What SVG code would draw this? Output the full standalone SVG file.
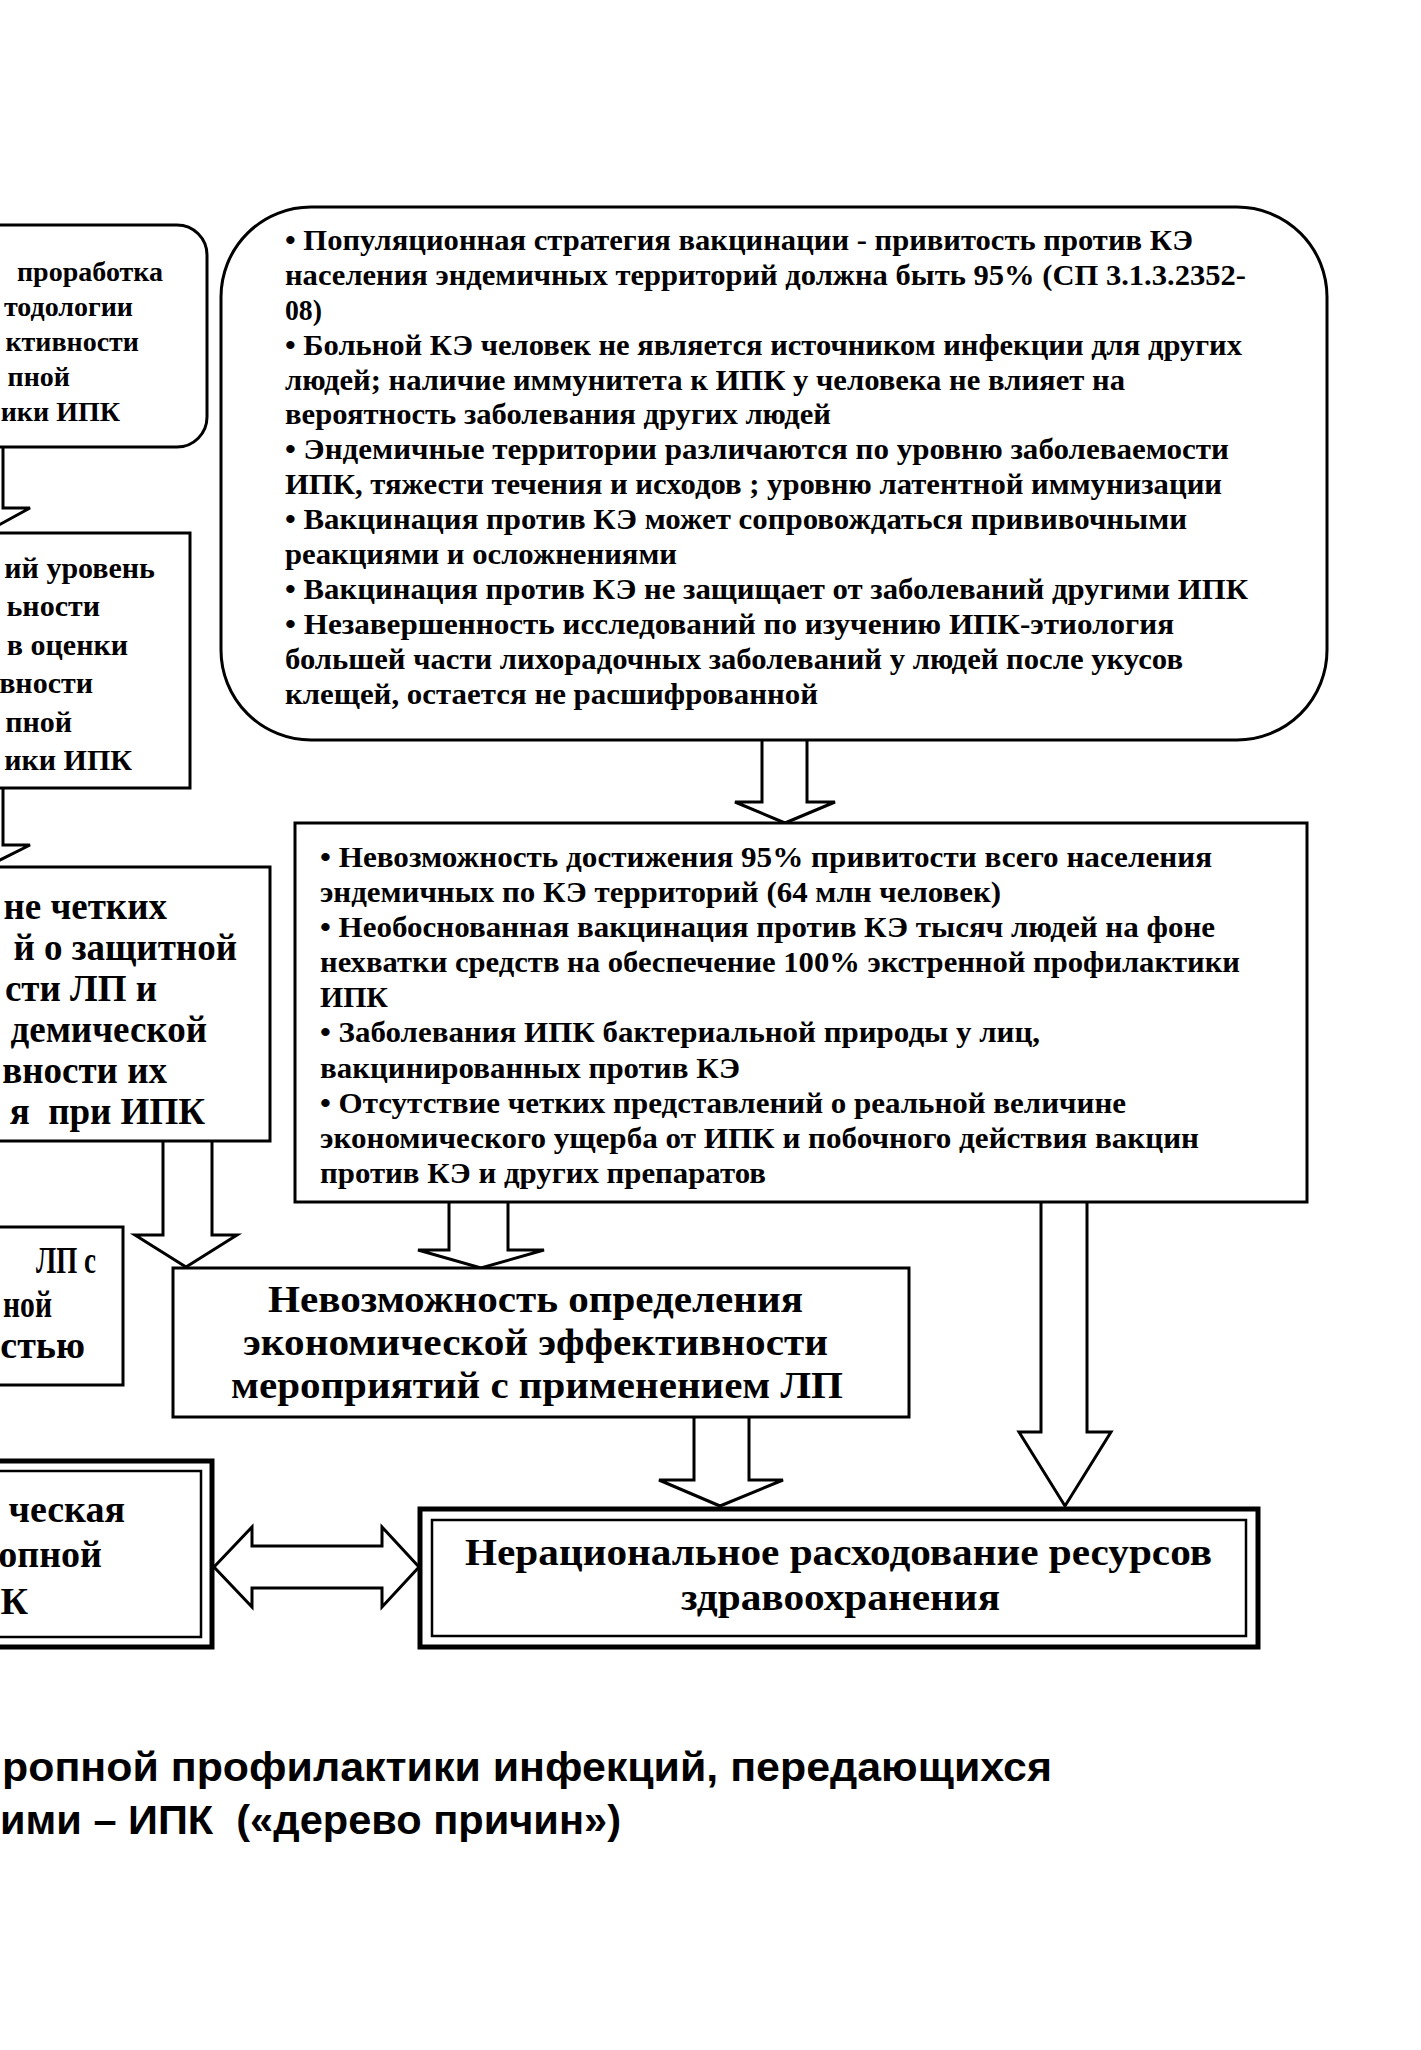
<svg xmlns="http://www.w3.org/2000/svg" width="1421" height="2050" viewBox="0 0 1421 2050">
<style>
.box{fill:#fff;stroke:#000;stroke-width:3}
.thick{fill:#fff;stroke:#000;stroke-width:5}
.thin{fill:none;stroke:#000;stroke-width:2.5}
.arr{fill:#fff;stroke:#000;stroke-width:3;stroke-linejoin:miter}
.s{font-family:"Liberation Serif","Times New Roman",serif;font-weight:bold;fill:#000}
.f29{font-size:29px}
.f28{font-size:28px}
.f30{font-size:30px}
.f37{font-size:37px}
.f38{font-size:38px}
.cap{font-family:"Liberation Sans",Arial,sans-serif;font-weight:bold;font-size:40px;fill:#000}
</style>
<rect x="0" y="0" width="1421" height="2050" fill="#fff"/>

<g id="connectors">
  <path class="arr" d="M-31,447 V508 H-58 L-14,532 L30,508 H3 V447"/>
  <path class="arr" d="M-31,788 V845 H-58 L-14,867 L30,845 H3 V788"/>
  <path class="arr" d="M762,740 V802 H735 L785,823 L835,802 H807 V740"/>
  <path class="arr" d="M163,1141 V1235 H135 L186,1267 L237,1235 H212 V1141"/>
  <path class="arr" d="M449,1202 V1250 H418 L481,1268 L544,1250 H508 V1202"/>
  <path class="arr" d="M694,1417 V1480 H659 L720,1506 L783,1480 H749 V1417"/>
  <path class="arr" d="M1041,1202 V1432 H1019 L1065,1506 L1111,1432 H1087 V1202"/>
  <path class="arr" d="M214,1567 L252,1527 V1546 H382 V1527 L419,1567 L382,1607 V1588 H252 V1607 Z"/>
</g>

<g id="node-left1">
  <rect class="box" x="-60" y="225" width="267" height="222" rx="30" ry="30"/>
  <text class="s f28" text-anchor="end" x="163" y="281">проработка</text>
  <text class="s f28" text-anchor="end" x="133" y="316">тодологии</text>
  <text class="s f28" text-anchor="end" x="139" y="351">ктивности</text>
  <text class="s f28" text-anchor="end" x="70" y="386">пной</text>
  <text class="s f28" text-anchor="end" x="120" y="421">ики ИПК</text>
</g>

<g id="node-top">
  <rect class="box" x="221" y="207" width="1106" height="533" rx="90" ry="90"/>
  <text class="s f29" x="285" y="250" textLength="908" lengthAdjust="spacingAndGlyphs">• Популяционная стратегия вакцинации - привитость против КЭ</text>
  <text class="s f29" x="285" y="285" textLength="961" lengthAdjust="spacingAndGlyphs">населения эндемичных территорий должна быть 95% (СП 3.1.3.2352-</text>
  <text class="s f29" x="285" y="320" textLength="37" lengthAdjust="spacingAndGlyphs">08)</text>
  <text class="s f29" x="285" y="355" textLength="957" lengthAdjust="spacingAndGlyphs">• Больной КЭ человек не является источником инфекции для других</text>
  <text class="s f29" x="285" y="390" textLength="840" lengthAdjust="spacingAndGlyphs">людей; наличие иммунитета к ИПК у человека не влияет на</text>
  <text class="s f29" x="285" y="424" textLength="546" lengthAdjust="spacingAndGlyphs">вероятность заболевания других людей</text>
  <text class="s f29" x="285" y="459" textLength="944" lengthAdjust="spacingAndGlyphs">• Эндемичные территории различаются по уровню заболеваемости</text>
  <text class="s f29" x="285" y="494" textLength="937" lengthAdjust="spacingAndGlyphs">ИПК, тяжести течения и исходов ; уровню латентной иммунизации</text>
  <text class="s f29" x="285" y="529" textLength="902" lengthAdjust="spacingAndGlyphs">• Вакцинация против КЭ может сопровождаться прививочными</text>
  <text class="s f29" x="285" y="564" textLength="392" lengthAdjust="spacingAndGlyphs">реакциями и осложнениями</text>
  <text class="s f29" x="285" y="599" textLength="963" lengthAdjust="spacingAndGlyphs">• Вакцинация против КЭ не защищает от заболеваний другими ИПК</text>
  <text class="s f29" x="285" y="634" textLength="889" lengthAdjust="spacingAndGlyphs">• Незавершенность исследований по изучению ИПК-этиология</text>
  <text class="s f29" x="285" y="669" textLength="898" lengthAdjust="spacingAndGlyphs">большей части лихорадочных заболеваний у людей после укусов</text>
  <text class="s f29" x="285" y="704" textLength="533" lengthAdjust="spacingAndGlyphs">клещей, остается не расшифрованной</text>
</g>

<g id="node-left2">
  <rect class="box" x="-10" y="533" width="200" height="255"/>
  <text class="s f30" text-anchor="end" x="155" y="578">ий уровень</text>
  <text class="s f30" text-anchor="end" x="100" y="616">ьности</text>
  <text class="s f30" text-anchor="end" x="128" y="655">в оценки</text>
  <text class="s f30" text-anchor="end" x="93" y="693">вности</text>
  <text class="s f30" text-anchor="end" x="72" y="732">пной</text>
  <text class="s f30" text-anchor="end" x="132" y="770">ики ИПК</text>
</g>

<g id="node-middle">
  <rect class="box" x="295" y="823" width="1012" height="379"/>
  <text class="s f29" x="320" y="867" textLength="892" lengthAdjust="spacingAndGlyphs">• Невозможность достижения 95% привитости всего населения</text>
  <text class="s f29" x="320" y="902" textLength="681" lengthAdjust="spacingAndGlyphs">эндемичных по КЭ территорий (64 млн человек)</text>
  <text class="s f29" x="320" y="937" textLength="895" lengthAdjust="spacingAndGlyphs">• Необоснованная вакцинация против КЭ тысяч людей на фоне</text>
  <text class="s f29" x="320" y="972" textLength="920" lengthAdjust="spacingAndGlyphs">нехватки средств на обеспечение 100% экстренной профилактики</text>
  <text class="s f29" x="320" y="1007" textLength="68" lengthAdjust="spacingAndGlyphs">ИПК</text>
  <text class="s f29" x="320" y="1042" textLength="720" lengthAdjust="spacingAndGlyphs">• Заболевания ИПК бактериальной природы у лиц,</text>
  <text class="s f29" x="320" y="1078" textLength="420" lengthAdjust="spacingAndGlyphs">вакцинированных против КЭ</text>
  <text class="s f29" x="320" y="1113" textLength="806" lengthAdjust="spacingAndGlyphs">• Отсутствие четких представлений о реальной величине</text>
  <text class="s f29" x="320" y="1148" textLength="879" lengthAdjust="spacingAndGlyphs">экономического ущерба от ИПК и побочного действия вакцин</text>
  <text class="s f29" x="320" y="1183" textLength="446" lengthAdjust="spacingAndGlyphs">против КЭ и других препаратов</text>
</g>

<g id="node-left3">
  <rect class="box" x="-10" y="867" width="280" height="274"/>
  <text class="s f37" text-anchor="end" x="167" y="919">не четких</text>
  <text class="s f37" text-anchor="end" x="237" y="960">й о защитной</text>
  <text class="s f37" text-anchor="end" x="157" y="1001">сти ЛП и</text>
  <text class="s f37" text-anchor="end" x="207" y="1042">демической</text>
  <text class="s f37" text-anchor="end" x="167" y="1083">вности их</text>
  <text class="s f37" text-anchor="end" x="205" y="1124" xml:space="preserve">я  при ИПК</text>
</g>

<g id="node-left4">
  <rect class="box" x="-10" y="1227" width="133" height="158"/>
  <text class="s f38" x="36" y="1273" textLength="60" lengthAdjust="spacingAndGlyphs">ЛП с</text>
  <text class="s f38" x="3" y="1317" textLength="49" lengthAdjust="spacingAndGlyphs">ной</text>
  <text class="s f38" text-anchor="end" x="85" y="1358">стью</text>
</g>

<g id="node-econ">
  <rect class="box" x="173" y="1268" width="736" height="149"/>
  <text class="s f37" x="268" y="1312" textLength="535" lengthAdjust="spacingAndGlyphs">Невозможность определения</text>
  <text class="s f37" x="243" y="1355" textLength="585" lengthAdjust="spacingAndGlyphs">экономической эффективности</text>
  <text class="s f37" x="231" y="1398" textLength="612" lengthAdjust="spacingAndGlyphs">мероприятий с применением ЛП</text>
</g>

<g id="node-left5">
  <rect class="thick" x="-10" y="1461" width="222" height="186"/>
  <rect class="thin" x="-10" y="1471" width="211" height="166"/>
  <text class="s f38" text-anchor="end" x="125" y="1522">ческая</text>
  <text class="s f38" text-anchor="end" x="102" y="1567">опной</text>
  <text class="s f38" text-anchor="end" x="28" y="1614">К</text>
</g>

<g id="node-bottom">
  <rect class="thick" x="420" y="1509" width="838" height="138"/>
  <rect class="thin" x="432" y="1520" width="814" height="116"/>
  <text class="s f37" x="465" y="1565" textLength="747" lengthAdjust="spacingAndGlyphs">Нерациональное расходование ресурсов</text>
  <text class="s f37" x="681" y="1610" textLength="319" lengthAdjust="spacingAndGlyphs">здравоохранения</text>
</g>

<g id="caption">
  <text class="cap" x="2" y="1781" textLength="1050" lengthAdjust="spacingAndGlyphs">ропной профилактики инфекций, передающихся</text>
  <text class="cap" x="0" y="1834" textLength="621" lengthAdjust="spacingAndGlyphs" xml:space="preserve">ими – ИПК  («дерево причин»)</text>
</g>
</svg>
